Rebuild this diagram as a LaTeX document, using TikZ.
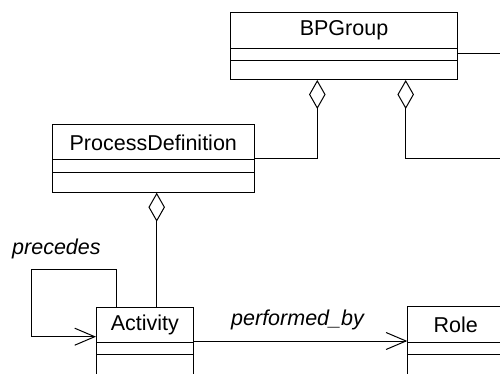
\documentclass[tikz,border=0pt]{standalone}
\usepackage{fontspec}
\setmainfont{Liberation Sans}
\usetikzlibrary{arrows.meta}
\begin{document}
\begin{tikzpicture}[x=1pt,y=-1pt,
  compart/.style={draw, line width=1pt, rectangle, outer sep=0pt, inner sep=0pt,
    font=\fontsize{21.5}{26}\selectfont},
  link/.style={draw, line width=1pt},
  agg/.style={link, {Diamond[open, length=29pt, width=16.5pt, line width=1pt]}-},
  nav/.style={link, -{Straight Barb[length=20pt, width=17pt, line width=1pt]}},
  rolename/.style={inner sep=0pt, font=\fontsize{21.5}{26}\selectfont\itshape}
]
\useasboundingbox (0,0) rectangle (500,374);
\clip (0,0) rectangle (500,374);

% free ends of the links leaving the page on the right
\coordinate (eastend) at (505,0);
\coordinate (loopc) at (31.7,269.3);

% BPGroup
\node[compart, minimum width=226.6pt, minimum height=36pt, anchor=north west] (bp1) at (230.7,12.3) {BPGroup};
\node[compart, minimum width=226.6pt, minimum height=12.4pt, anchor=north] (bp2) at (bp1.south) {};
\node[compart, minimum width=226.6pt, minimum height=19.3pt, anchor=north] (bp3) at (bp2.south) {};

% ProcessDefinition
\node[compart, minimum width=202pt, minimum height=35pt, anchor=north west] (pd1) at (52.3,125) {ProcessDefinition};
\node[compart, minimum width=202pt, minimum height=12.3pt, anchor=north] (pd2) at (pd1.south) {};
\node[compart, minimum width=202pt, minimum height=20.4pt, anchor=north] (pd3) at (pd2.south) {};

% Activity
\node[compart, minimum width=97.7pt, minimum height=35.5pt, anchor=north west] (act1) at (96,307) {Activity};
\node[compart, minimum width=97.7pt, minimum height=12pt, anchor=north] (act2) at (act1.south) {};
\node[compart, minimum width=97.7pt, minimum height=25pt, anchor=north] (act3) at (act2.south) {};

% Role
\node[compart, minimum width=97pt, minimum height=35.6pt, anchor=north west] (role1) at (407.3,306.7) {Role};
\node[compart, minimum width=97pt, minimum height=11.7pt, anchor=north] (role2) at (role1.south) {};
\node[compart, minimum width=97pt, minimum height=25pt, anchor=north] (role3) at (role2.south) {};

% aggregations
\draw[agg] ([xshift=86.6pt]bp3.south west) |- ([yshift=1.7pt]pd1.south east);
\draw[agg] ([xshift=175pt]bp3.south west) |- ([yshift=1.7pt]pd1.south east -| eastend);
\draw[agg] ([xshift=104.4pt]pd3.south west) -- ([xshift=60.7pt]act1.north west);

% association leaving BPGroup to the right
\draw[link] ([yshift=1.2pt]bp2.east) -- ([yshift=1.2pt]bp2.east -| eastend);

% precedes (self association)
\draw[nav] ([xshift=20.7pt]act1.north west) |- (loopc) |- ([yshift=5.8pt]act1.south west);
\node[rolename, anchor=base west] (lblprec) at (12,254.3) {precedes};

% performed_by
\draw[nav] ([yshift=1.5pt]act1.south east) -- ([yshift=1.5pt]act1.south east -| role1.west);
\node[rolename, anchor=base west] (lblperf) at (231,325.7) {performed\_by};
\end{tikzpicture}
\end{document}
